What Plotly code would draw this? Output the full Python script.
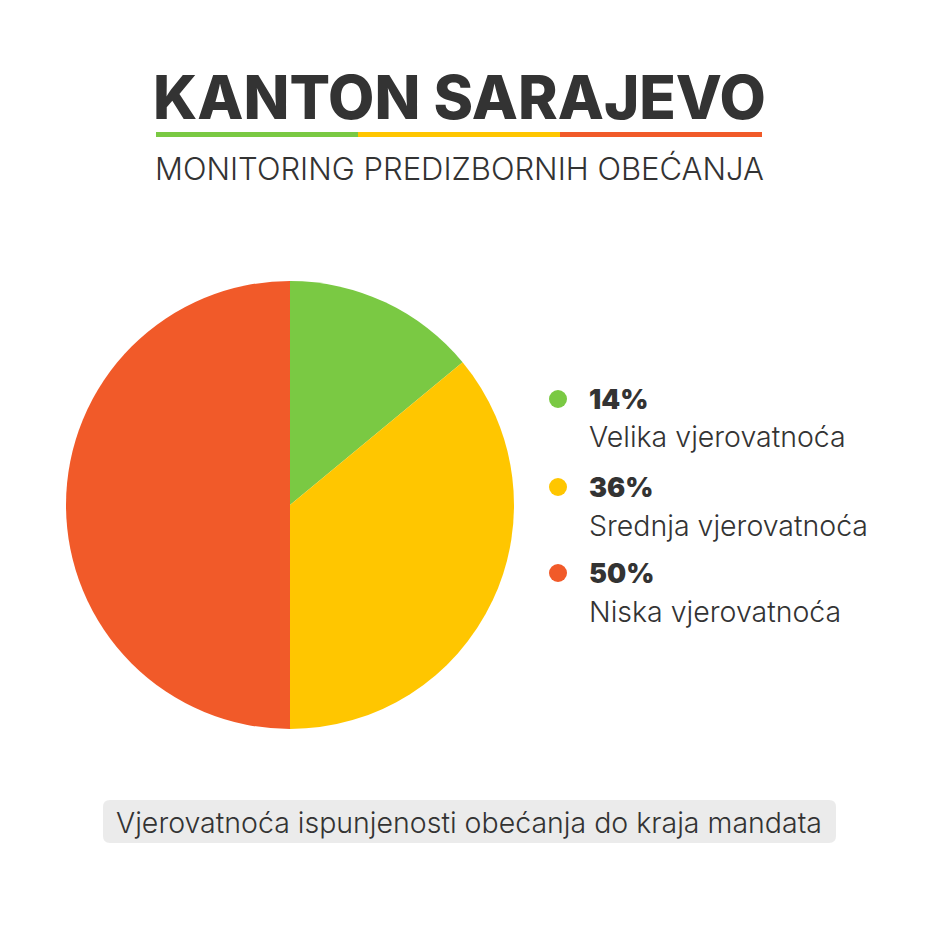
import plotly.graph_objects as go

W = H = 922   # page adds an 8px body margin
OFF = 8

title = "KANTON SARAJEVO"
subtitle = "MONITORING PREDIZBORNIH OBEĆANJA"
footer = "Vjerovatnoća ispunjenosti obećanja do kraja mandata"

categories = ["Velika vjerovatnoća", "Srednja vjerovatnoća", "Niska vjerovatnoća"]
values = [14, 36, 50]
pct_labels = ["14%", "36%", "50%"]
colors = ["#7AC943", "#FFC600", "#F15A29"]

TEXT = "#333333"
FONT = "Inter"


def px(x):
    return (x - OFF) / W


def py(y):
    return 1 - (y - OFF) / H


fig = go.Figure()
fig.add_trace(go.Pie(
    labels=categories, values=values, sort=False, direction="clockwise",
    rotation=0, marker=dict(colors=colors, line=dict(width=0)),
    textinfo="none", hoverinfo="label+percent", showlegend=False,
    domain=dict(x=[px(66), px(514)], y=[py(729), py(281)]),
))

shapes = []
annotations = []

# title
annotations.append(dict(x=px(459), y=py(97), text=title, showarrow=False,
                        xanchor="center", yanchor="middle",
                        font=dict(family=FONT, size=60, color=TEXT, weight=800)))
# underline segments
seg_x = [156, 358, 560, 762]
for i, c in enumerate(colors):
    shapes.append(dict(type="rect", xref="paper", yref="paper",
                       x0=px(seg_x[i]), x1=px(seg_x[i + 1]), y0=py(137), y1=py(132),
                       fillcolor=c, line=dict(width=0)))
# subtitle
annotations.append(dict(x=px(459), y=py(168), text=subtitle, showarrow=False,
                        xanchor="center", yanchor="middle",
                        font=dict(family=FONT, size=31, color=TEXT, weight=300)))

# legend
dot_y = [399, 487, 573]
for i in range(3):
    r = 9
    shapes.append(dict(type="circle", xref="paper", yref="paper",
                       x0=px(558 - r), x1=px(558 + r), y0=py(dot_y[i] + r), y1=py(dot_y[i] - r),
                       fillcolor=colors[i], line=dict(width=0)))
    annotations.append(dict(x=px(587), y=py(dot_y[i]), text=pct_labels[i],
                            showarrow=False, xanchor="left", yanchor="middle",
                            font=dict(family=FONT, size=27, color=TEXT, weight=900)))
    annotations.append(dict(x=px(587), y=py(dot_y[i] + 38), text=categories[i],
                            showarrow=False, xanchor="left", yanchor="middle",
                            font=dict(family=FONT, size=28.5, color=TEXT, weight=300)))

# footer box with rounded corners
x0, x1, y0, y1, rr = px(103), px(836), py(843), py(800), 7 / W
path = (f"M {x0+rr},{y0} L {x1-rr},{y0} Q {x1},{y0} {x1},{y0+rr} "
        f"L {x1},{y1-rr} Q {x1},{y1} {x1-rr},{y1} L {x0+rr},{y1} "
        f"Q {x0},{y1} {x0},{y1-rr} L {x0},{y0+rr} Q {x0},{y0} {x0+rr},{y0} Z")
shapes.append(dict(type="path", xref="paper", yref="paper", path=path,
                   fillcolor="#EBEBEB", line=dict(width=0), layer="below"))
annotations.append(dict(x=px(469), y=py(822), text=footer, showarrow=False,
                        xanchor="center", yanchor="middle",
                        font=dict(family=FONT, size=28.5, color=TEXT, weight=300)))

fig.update_layout(width=W, height=H, margin=dict(l=0, r=0, t=0, b=0),
                  paper_bgcolor="white", plot_bgcolor="white",
                  shapes=shapes, annotations=annotations)

fig.write_html("out.html")
